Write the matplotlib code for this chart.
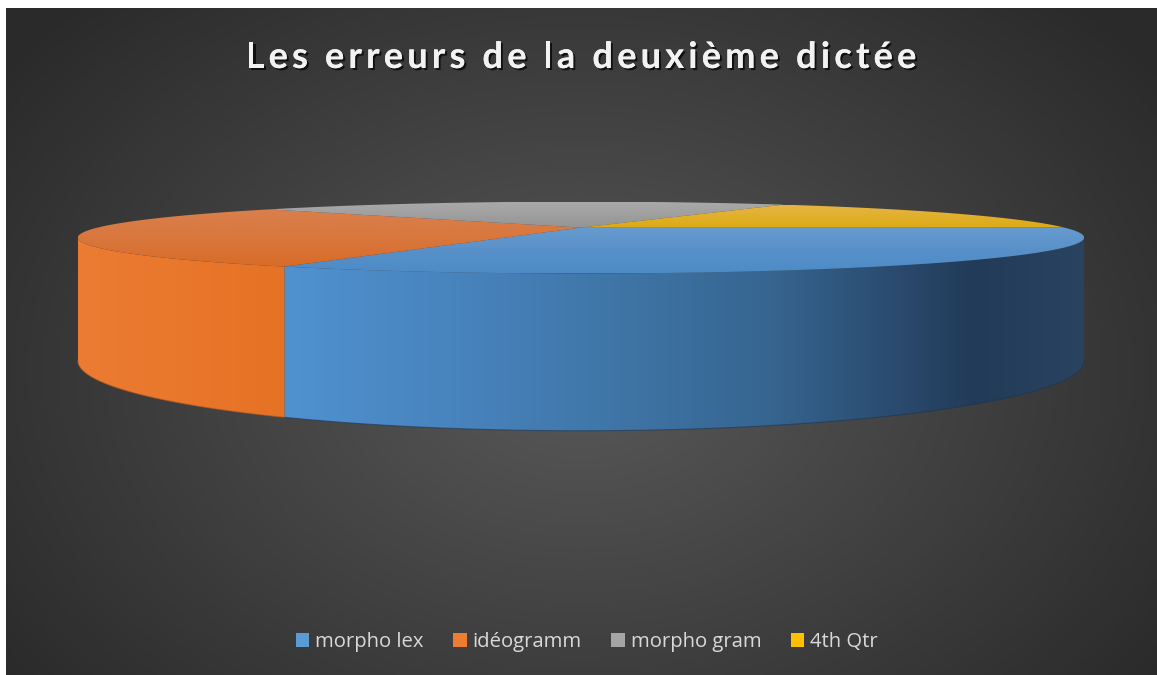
import numpy as np
import matplotlib.pyplot as plt
import matplotlib.patheffects as pe
from matplotlib.patches import Polygon, Patch
from matplotlib.colors import to_rgb

# donnees du graphique
categories = ['morpho lex', 'idéogramm', 'morpho gram', '4th Qtr']
values = [16, 14, 11, 8]
first_angle = 90  # angle du premier secteur (degres, sens horaire depuis 12h)
title = 'Les erreurs de la deuxième dictée'

legend_colors = ['#5B9BD5', '#ED7D31', '#A5A5A5', '#FFC000']
# degrades (position ecran, couleur) pour le dessus et le cote
top_stops = [
    [(226, '#679CCE'), (252, '#5790C9'), (280, '#4A89C6')],
    [(205, '#D9814F'), (240, '#D9763C'), (270, '#D86A24')],
    [(200, '#ABABAB'), (230, '#929292')],
    [(203, '#E5B648'), (230, '#DCA90C')],
]
side_stops = [
    [(276, '#5092D1'), (450, '#4884BE'), (600, '#4077A9'), (770, '#366590'),
     (900, '#2A4A6E'), (975, '#223B58'), (1087, '#2A4360')],
    [(78, '#EC7C33'), (276, '#E67225')],
    None, None,
]

W, H = 1157, 675
fig = plt.figure(figsize=(W / 100, H / 100), dpi=100, facecolor='white')
ax = fig.add_axes([0, 0, 1, 1])
ax.set_xlim(0, W)
ax.set_ylim(H, 0)

# fond radial gris fonce
yy, xx = np.mgrid[8:H, 6:W].astype(float)
t = np.sqrt(((xx - 580) / 720) ** 2 + ((yy - 370) / 520) ** 2)
t = np.clip(t, 0, 1)
c_in, c_out = np.array(to_rgb('#595959')), np.array(to_rgb('#2A2A2A'))
bg = c_in + (c_out - c_in) * t[..., None]
ax.imshow(bg, extent=(6, W, H, 8), aspect='auto', zorder=0, interpolation='bilinear')

# projection perspective du camembert 3D
Zc, F, h, T = 3.6, 1740.0, 0.247, 0.235
cx, y0 = 581.0, 108.2


def proj(theta, top=True):
    th = np.radians(theta)
    X, Z = np.sin(th), -np.cos(th)
    depth = Zc - Z
    px = cx + F * X / depth
    py = y0 + F * (h + (0 if top else T)) / depth
    return px, py


def grad_fill(verts, stops, axis, z):
    poly = Polygon(verts, closed=True, facecolor='none', edgecolor='none')
    ax.add_patch(poly)
    verts = np.asarray(verts)
    xmin, ymin = verts.min(axis=0)
    xmax, ymax = verts.max(axis=0)
    pos = np.array([s[0] for s in stops], dtype=float)
    cols = np.array([to_rgb(s[1]) for s in stops])
    if axis == 'x':
        g = np.linspace(xmin, xmax, 400)
    else:
        g = np.linspace(ymin, ymax, 400)
    rgb = np.stack([np.interp(g, pos, cols[:, k]) for k in range(3)], axis=-1)
    if axis == 'x':
        img = rgb[None, :, :]
    else:
        img = rgb[:, None, :]
    im = ax.imshow(img, extent=(xmin, xmax, ymax, ymin), aspect='auto',
                   zorder=z, interpolation='bilinear')
    im.set_clip_path(poly)


fracs = np.array(values, dtype=float) / sum(values)
starts = first_angle + np.concatenate([[0], np.cumsum(fracs)[:-1]]) * 360
ends = starts + fracs * 360
center = (cx, y0 + F * h / Zc)

# partie visible du cote : entre les points de tangence
vis_lo = np.degrees(np.arccos(-1 / Zc))
vis_hi = 360 - vis_lo

for i in range(len(values)):
    a, b = starts[i], ends[i]
    # cote
    if side_stops[i] is not None:
        for shift in (0, 360, -360):
            lo, hi = max(a + shift, vis_lo), min(b + shift, vis_hi)
            if hi > lo:
                th = np.linspace(lo, hi, 200)
                tx, ty = proj(th, True)
                bx, by = proj(th[::-1], False)
                verts = np.column_stack([np.r_[tx, bx], np.r_[ty, by]])
                grad_fill(verts, side_stops[i], 'x', 2)
                ex, ey = proj(th, False)
                ax.plot(ex, ey, color='#1E3550' if i == 0 else '#B85A1C',
                        lw=0.8, alpha=0.6, zorder=2.5)
    # dessus
    th = np.linspace(a, b, 300)
    tx, ty = proj(th, True)
    verts = np.column_stack([np.r_[center[0], tx], np.r_[center[1], ty]])
    grad_fill(verts, top_stops[i], 'y', 3)

ax.set_xlim(0, W)
ax.set_ylim(H, 0)
ax.axis('off')

# titre avec espacement des lettres
renderer = fig.canvas.get_renderer()
tkw = dict(fontsize=26, fontweight='bold', family=['Lato', 'DejaVu Sans'])
spacing = 4.2


def text_width(s):
    tt = ax.text(0, 0, s, **tkw)
    w = tt.get_window_extent(renderer).width
    tt.remove()
    return w


bar_w = text_width('|')
pos = [text_width(title[:k] + '|') - bar_w if k > 0 else 0 for k in range(len(title))]
total = text_width(title) + spacing * (len(title) - 1)
x_start = 581 - total / 2
for k, ch in enumerate(title):
    if ch == ' ':
        continue
    ax.text(x_start + pos[k] + spacing * k, 68, ch, ha='left', va='baseline',
            color='#F2F2F2', zorder=5,
            path_effects=[pe.withSimplePatchShadow(offset=(1.5, -1.5),
                                                   shadow_rgbFace='black', alpha=0.7),
                          pe.Normal()], **tkw)

# legende
handles = [Patch(facecolor=c, edgecolor='none', label=l)
           for c, l in zip(legend_colors, categories)]
leg = ax.legend(handles=handles, loc='center', bbox_to_anchor=(587 / W, 1 - 642 / H),
                ncol=4, frameon=False, handlelength=0.66,
                handleheight=0.66, handletextpad=0.3, columnspacing=1.45,
                prop={'family': ['Open Sans', 'DejaVu Sans'], 'size': 14.6})
for txt in leg.get_texts():
    txt.set_color('#D9D9D9')

fig.savefig('out.png', dpi=100, facecolor='white')
